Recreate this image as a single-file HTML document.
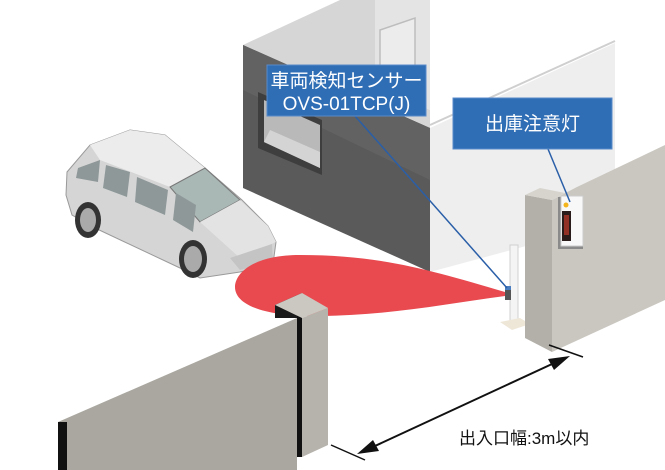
<!DOCTYPE html>
<html><head><meta charset="utf-8"><style>
html,body{margin:0;padding:0;background:#fff;width:665px;height:470px;overflow:hidden}
svg{display:block}
.lbl{font-family:"Liberation Sans","Noto Sans CJK JP",sans-serif;fill:#fff;font-size:19px}
</style></head><body>
<svg width="665" height="470" viewBox="0 0 665 470" xmlns="http://www.w3.org/2000/svg">
<polygon points="243,45 340,0 430,0 430,128" fill="#d6d6d6"/>
<polygon points="375,0 430,0 430,110 375,90" fill="#e4e4e4"/>
<polygon points="380,30 415,18 415,95 380,100" fill="#ececec" stroke="#bdbdbd" stroke-width="1.5"/>
<polygon points="430,128 615,43 615,222 430,272" fill="#eeeeee"/>
<polyline points="430,125 615,41" stroke="#cfcfcf" stroke-width="2" fill="none"/>
<polygon points="243,45 430,128 430,272 243,188" fill="#5a5a5a"/>
<polygon points="243,45 430,128 430,180 243,90" fill="#626262"/>
<polygon points="258,92 322,120 322,175 258,148" fill="#3e3e3e"/>
<polygon points="264,100 320,125 320,168 264,142" fill="#b9b9b9"/>
<polygon points="270,130 320,152 320,168 264,142" fill="#d4d4d4"/>
<g>
<polygon points="67,172 90,145 130,130 165,135 205,168 242,200 268,226 276,242 273,264 240,272 200,278 180,268 95,228 72,215 66,195" fill="#d5d5d5" stroke="#9a9a9a" stroke-width="1"/>
<polygon points="90,145 130,130 165,135 205,168 170,187 100,160" fill="#ececec"/>
<polygon points="170,187 205,168 240,200 200,222" fill="#a9b7b5" stroke="#777" stroke-width="1"/>
<polygon points="200,222 240,200 268,226 276,242 240,258" fill="#e3e3e3"/>
<polygon points="78,168 100,160 98,182 76,178" fill="#8f9899"/>
<polygon points="106,165 130,172 127,197 103,188" fill="#8f9899"/>
<polygon points="137,177 168,190 165,215 135,202" fill="#8f9899"/>
<polygon points="176,193 196,205 193,232 173,220" fill="#8f9899"/>
<polygon points="230,258 272,244 273,262 240,270" fill="#c4c4c4"/>
<ellipse cx="88" cy="220" rx="13" ry="18" fill="#333"/>
<ellipse cx="88" cy="220" rx="8" ry="12" fill="#aaa"/>
<ellipse cx="193" cy="259" rx="14" ry="19" fill="#333"/>
<ellipse cx="193" cy="259" rx="9" ry="13" fill="#aaa"/>
</g>
<path d="M505,292 C430,270 380,255 300,255 C252,255 235,274 235,287 C235,306 268,317 320,316 C392,315 445,304 505,296 Z" fill="#e84a50"/>
<rect x="510" y="245" width="8" height="80" fill="#f4f4f4" stroke="#d0d0d0"/>
<polygon points="500,322 520,318 530,324 512,330" fill="#eee7d8"/>
<rect x="505" y="286" width="6" height="14" fill="#555"/>
<rect x="505" y="286" width="6" height="4" fill="#4a7cc0"/>
<polygon points="552,200 577,187 665,145 665,300 552,352" fill="#cac7c0"/>
<polygon points="525,195 552,200 552,352 525,338" fill="#b3b0a9"/>
<polygon points="525,195 540,188 565,193 552,200" fill="#d7d4ce"/>
<rect x="558" y="197" width="25" height="52" fill="#8a8a8a"/>
<rect x="561" y="196" width="22" height="50" fill="#f8f8f8" stroke="#ccc"/>
<rect x="562" y="211" width="9" height="30" fill="#2b1c1c"/>
<rect x="564" y="215" width="5" height="20" fill="#c0392b" opacity=".7"/>
<circle cx="566" cy="205" r="2.5" fill="#f3b41c"/>
<!-- front wall -->
<polygon points="58,422 297,318 297,470 58,470" fill="#a9a79f"/>
<rect x="58" y="422" width="9" height="48" fill="#111"/>
<polygon points="275,305 302,293 302,318 275,318" fill="#1a1a1a"/>
<rect x="297" y="315" width="5" height="142" fill="#111"/>
<polygon points="302,318 328,308 328,445 302,457" fill="#b6b3ac"/>
<polygon points="275,305 302,293 328,308 302,318" fill="#cbc8c1"/>
<line x1="549" y1="345" x2="583" y2="357" stroke="#111" stroke-width="1.5"/>
<line x1="331" y1="445" x2="365" y2="460" stroke="#111" stroke-width="1.5"/>
<line x1="565" y1="358" x2="362" y2="452" stroke="#111" stroke-width="2"/>
<polygon points="570,356 548,359 554,370" fill="#111"/>
<polygon points="357,454 379,451 373,440" fill="#111"/>
<text x="459" y="444" font-family="'Liberation Sans','Noto Sans CJK JP',sans-serif" font-size="17" fill="#111">出入口幅:3m以内</text>
<line x1="355" y1="116" x2="507" y2="288" stroke="#2a5fa8" stroke-width="1.5"/>
<line x1="548" y1="149" x2="570" y2="202" stroke="#2a5fa8" stroke-width="1.5"/>
<rect x="267" y="65" width="159" height="51" fill="#2f6db4" stroke="#5a8acb" stroke-width="1"/>
<text class="lbl" x="346.5" y="87" text-anchor="middle">車両検知センサー</text>
<text class="lbl" x="346.5" y="110" text-anchor="middle">OVS-01TCP(J)</text>
<rect x="453" y="98" width="159" height="51" fill="#2f6db4" stroke="#5a8acb" stroke-width="1"/>
<text class="lbl" x="532.5" y="130" text-anchor="middle">出庫注意灯</text>
</svg>
</body></html>
